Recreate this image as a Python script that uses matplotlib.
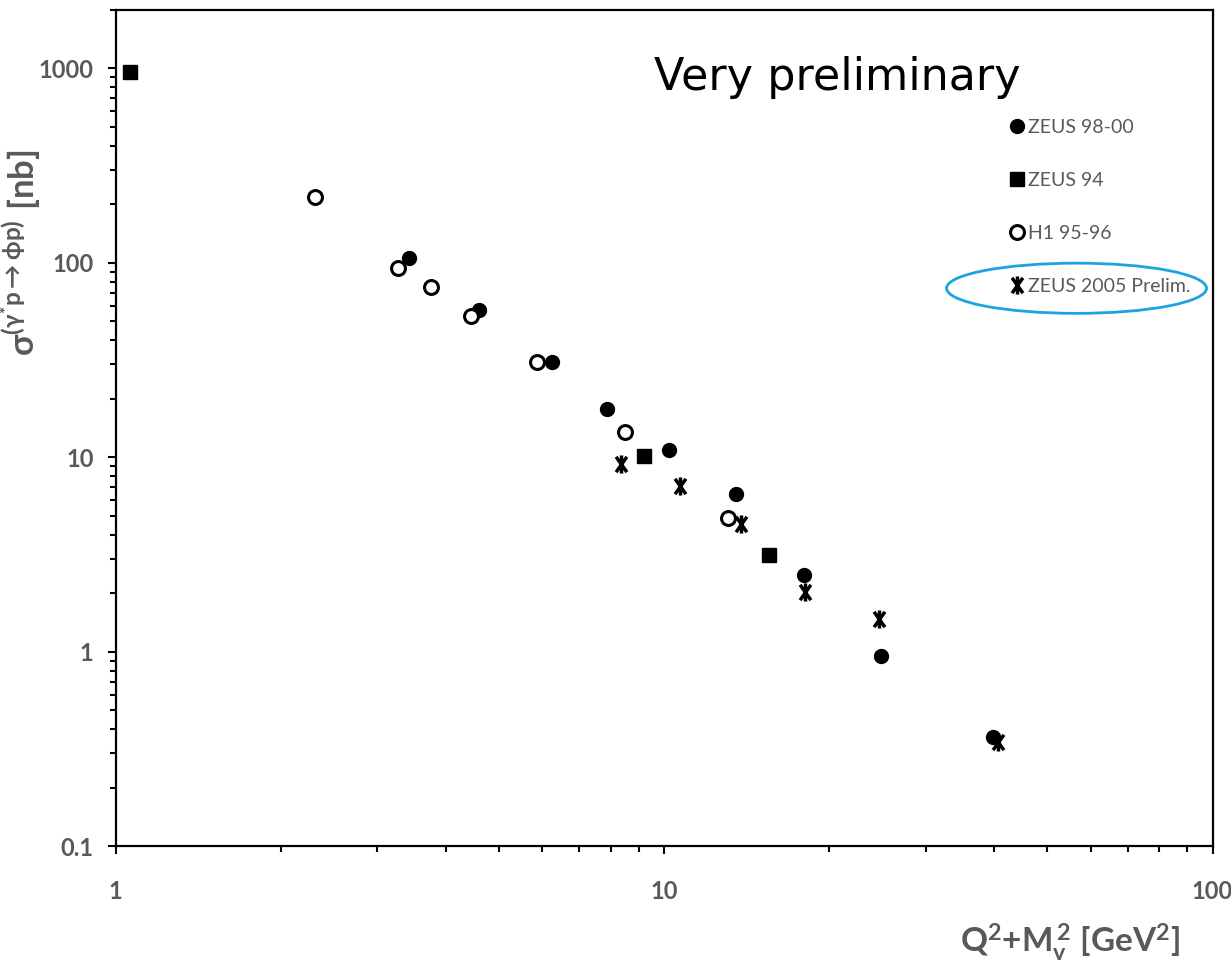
import matplotlib
matplotlib.use('Agg')
import matplotlib.pyplot as plt
from matplotlib.path import Path
from matplotlib.patches import Ellipse
from matplotlib.lines import Line2D
from matplotlib.ticker import LogLocator, NullFormatter, FixedLocator, FixedFormatter

# values (x = Q^2+Mv^2 [GeV^2], y = sigma [nb])
zeus9800_x = [3.42, 4.59, 6.24, 7.86, 10.2, 13.5, 18.0, 24.9, 39.7]
zeus9800_y = [106, 57, 30.9, 17.7, 10.9, 6.44, 2.47, 0.953, 0.365]
zeus94_x = [1.06, 9.18, 15.5]
zeus94_y = [955, 10.1, 3.13]
h1_x = [2.31, 3.27, 3.75, 4.44, 5.86, 8.47, 13.1]
h1_y = [219, 94.3, 75.2, 53.3, 30.9, 13.5, 4.86]
zeus05_x = [8.33, 10.7, 13.8, 18.1, 24.6, 40.6]
zeus05_y = [9.2, 7.1, 4.52, 2.04, 1.48, 0.344]

series_labels = ['ZEUS 98-00', 'ZEUS 94', 'H1 95-96', 'ZEUS 2005 Prelim.']
xticks = [1, 10, 100]
xticklabels = ['1', '10', '100']
yticks = [0.1, 1, 10, 100, 1000]
yticklabels = ['0.1', '1', '10', '100', '1000']

plt.rcParams['font.family'] = ['Lato', 'DejaVu Sans']
plt.rcParams['mathtext.fontset'] = 'custom'
plt.rcParams['mathtext.rm'] = 'Lato:bold'
plt.rcParams['mathtext.it'] = 'Lato:bold'
plt.rcParams['mathtext.bf'] = 'Lato:bold'
grey = '#595959'

# asterisk-like marker: X with a vertical bar
star = Path([(0, -1), (0, 1), (-0.6, -0.85), (0.6, 0.85), (-0.6, 0.85), (0.6, -0.85)],
            [Path.MOVETO, Path.LINETO, Path.MOVETO, Path.LINETO, Path.MOVETO, Path.LINETO])

fig = plt.figure(figsize=(12.31, 9.65), dpi=100)
ax = fig.add_axes([0.094, 0.123, 0.891, 0.867])

ax.plot(zeus9800_x, zeus9800_y, 'o', color='black', ms=10, ls='none')
ax.plot(zeus94_x, zeus94_y, 's', color='black', ms=10, ls='none')
ax.plot(h1_x, h1_y, 'o', mfc='white', mec='black', mew=2.2, ms=10, ls='none')
ax.plot(zeus05_x, zeus05_y, marker=star, color='black', mfc='none', mew=2.5, ms=13, ls='none')

ax.set_xscale('log')
ax.set_yscale('log')
ax.set_xlim(1, 100)
ax.set_ylim(0.1, 2000)

ax.xaxis.set_major_locator(FixedLocator(xticks))
ax.xaxis.set_major_formatter(FixedFormatter(xticklabels))
ax.yaxis.set_major_locator(FixedLocator(yticks))
ax.yaxis.set_major_formatter(FixedFormatter(yticklabels))
ax.xaxis.set_minor_locator(LogLocator(base=10, subs=range(2, 10)))
ax.yaxis.set_minor_locator(LogLocator(base=10, subs=range(2, 10)))
ax.xaxis.set_minor_formatter(NullFormatter())
ax.yaxis.set_minor_formatter(NullFormatter())

for s in ax.spines.values():
    s.set_linewidth(1.6)
ax.tick_params(which='major', direction='out', length=6, width=1.5, labelcolor=grey, labelsize=17)
ax.tick_params(which='minor', direction='out', length=4, width=1.5)
ax.tick_params(axis='x', which='major', pad=18)
ax.tick_params(axis='y', which='major', pad=10)
for lab in ax.get_xticklabels() + ax.get_yticklabels():
    lab.set_fontweight('bold')

ax.set_ylabel(r'$\mathrm{\sigma^{(\gamma^{*}p\rightarrow\phi p)}\ [nb]}$', color=grey, fontsize=25)
ax.yaxis.set_label_coords(-0.066, 0.71)
ax.set_xlabel(r'$\mathrm{Q^{2}{+}M_{v}^{\,2}\ [GeV^{2}]}$', color=grey, fontsize=24)
ax.xaxis.set_label_coords(0.87, -0.09)

ax.text(0.491, 0.919, 'Very preliminary', transform=ax.transAxes, fontsize=32,
        family='DejaVu Sans', color='black', va='center')

handles = [
    Line2D([], [], marker='o', color='black', ms=10, ls='none'),
    Line2D([], [], marker='s', color='black', ms=10, ls='none'),
    Line2D([], [], marker='o', mfc='white', mec='black', mew=2.2, ms=10, ls='none'),
    Line2D([], [], marker=star, color='black', mfc='none', mew=2.5, ms=13, ls='none'),
]
leg = ax.legend(handles, series_labels, loc='upper left', bbox_to_anchor=(0.815, 0.869),
                frameon=False, fontsize=14, labelspacing=1.85, handlelength=0.8,
                handletextpad=0.15, borderpad=0, borderaxespad=0, labelcolor=grey)

ax.add_patch(Ellipse((0.876, 0.667), 0.237, 0.06, transform=ax.transAxes,
                     fill=False, edgecolor='#1ca3e0', lw=2))

fig.savefig('out.png', dpi=100)
